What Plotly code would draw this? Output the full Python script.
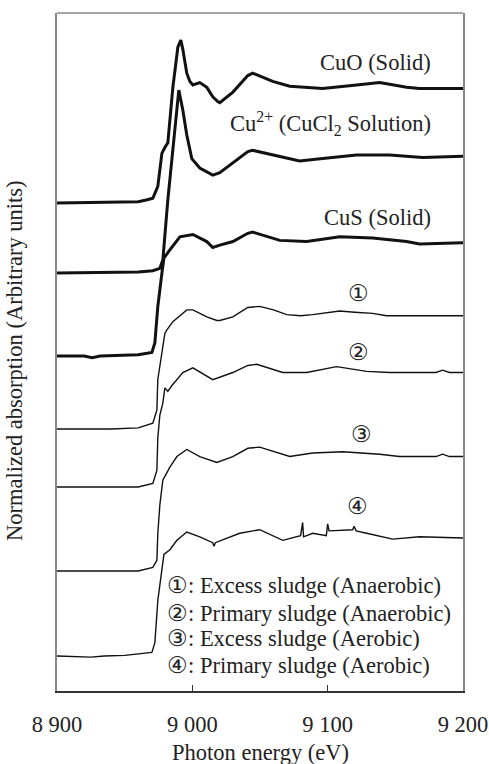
import plotly.graph_objects as go

# ---- data: photon energy (eV) and normalized absorption (edge jump ~ 1) ----
cuo_e = [8900, 8930, 8960, 8966, 8970.8, 8974.5, 8977.5, 8979.7, 8981.9, 8985.6, 8989.3,
         8991.5, 8993.0, 8995.9, 8998.2, 9000.4, 9005.5, 9010.7, 9015.1, 9018.8, 9020.3,
         9030, 9041, 9044.6, 9059.4, 9072, 9096.3, 9121.4, 9138.4, 9158.3, 9167.9, 9200]
cuo_mu = [0, 0.005, 0.01, 0.025, 0.04, 0.14, 0.42, 0.47, 0.51, 0.98, 1.32,
          1.38, 1.30, 1.10, 1.03, 1.00, 1.02, 0.98, 0.90, 0.86, 0.85,
          0.94, 1.08, 1.10, 1.03, 0.99, 0.97, 1.00, 1.02, 0.98, 0.97, 0.97]

cucl2_e = [8900, 8960, 8970.8, 8976, 8978.2, 8979.7, 8981.9, 8990.0, 8993.0, 8995.9,
           8999.6, 9005.5, 9012.9, 9015.1, 9020.3, 9029.9, 9041, 9044.6, 9059.4, 9079.3,
           9096.3, 9121.4, 9145.8, 9170.1, 9200]
cucl2_mu = [0, 0.01, 0.02, 0.04, 0.11, 0.34, 0.62, 1.55, 1.38, 1.17,
            0.97, 0.89, 0.84, 0.83, 0.85, 0.93, 1.03, 1.04, 1.00, 0.95,
            0.97, 1.00, 1.00, 0.98, 0.99]

cus_e = [8900, 8920, 8926, 8932, 8960, 8970.1, 8972.3, 8974.5, 8977.5, 8979.0, 8983.4, 8990.8,
         9000.4, 9010.7, 9015.1, 9020.3, 9030, 9041, 9044.6, 9064.6, 9084.5, 9108.9,
         9133.2, 9158.3, 9167.9, 9200]
cus_mu = [0, 0, -0.015, 0, 0.01, 0.03, 0.11, 0.42, 0.70, 0.83, 0.90, 1.01,
          1.03, 0.97, 0.92, 0.94, 0.97, 1.04, 1.05, 0.98, 0.97, 1.01,
          1.00, 0.97, 0.95, 0.96]

s1_e = [8900, 8940, 8960, 8970.8, 8973.8, 8974.5, 8979.7, 8981.2, 8985.6, 8995.9,
        9000.4, 9010.7, 9018.1, 9020.3, 9029.9, 9041, 9049.8, 9060, 9069.7, 9080,
        9088.9, 9100, 9108.9, 9120, 9133.2, 9143.5, 9170, 9200]
s1_mu = [0, 0, 0.01, 0.05, 0.16, 0.42, 0.81, 0.84, 0.91, 1.01,
         1.01, 0.95, 0.92, 0.92, 0.95, 1.03, 1.04, 1.01, 0.97, 0.96,
         0.97, 0.99, 1.00, 0.99, 0.98, 0.96, 0.96, 0.96]

s2_e = [8900, 8960, 8970.8, 8973.8, 8974.5, 8976, 8978.2, 8979.7, 8981.9, 8984.9,
        8993, 9000.4, 9015.1, 9029.9, 9041, 9047.6, 9066.8, 9084.5, 9106.6, 9128.8,
        9145.8, 9180, 9185, 9190, 9200]
s2_mu = [0, 0, 0.03, 0.14, 0.42, 0.61, 0.71, 0.84, 0.81, 0.86,
         0.97, 1.01, 0.91, 0.97, 1.03, 1.04, 0.97, 0.97, 1.02, 0.98,
         0.97, 0.97, 0.99, 0.97, 0.97]

s3_e = [8900, 8960, 8970.8, 8973.8, 8974.5, 8976, 8978.2, 8983.4, 8988.6, 8995.9,
        9005.5, 9018.1, 9029.9, 9041, 9049.8, 9072, 9088.9, 9111.1, 9138.4, 9153.1,
        9180, 9185, 9190, 9200]
s3_mu = [0, 0, 0.03, 0.09, 0.32, 0.56, 0.77, 0.88, 0.97, 1.03,
         0.97, 0.92, 0.97, 1.04, 1.05, 0.97, 1.00, 1.01, 0.99, 0.97,
         0.97, 0.99, 0.97, 0.97]

s4_e = [8900, 8925, 8935, 8950, 8970.1, 8972.3, 8974.5, 8977.5, 8979.0, 8983.4, 8988.6,
        8995.9, 9005.5, 9015.1, 9016, 9017, 9035, 9049.8, 9066.8, 9080, 9081.5,
        9082.2, 9088.9, 9099, 9100, 9101, 9118.5, 9119.5, 9121, 9128.8, 9148,
        9167.9, 9200]
s4_mu = [0, -0.01, 0, 0.005, 0.03, 0.11, 0.47, 0.75, 0.86, 0.90, 0.98,
         1.05, 1.01, 0.96, 0.93, 0.96, 1.04, 1.07, 0.98, 1.02, 1.13,
         1.01, 1.04, 1.02, 1.12, 1.06, 1.07, 1.10, 1.06, 1.04, 0.99,
         1.01, 1.00]

offsets = [4.136, 3.542, 2.839, 2.220, 1.729, 1.017, 0.297]
series_e = [cuo_e, cucl2_e, cus_e, s1_e, s2_e, s3_e, s4_e]
series_mu = [cuo_mu, cucl2_mu, cus_mu, s1_mu, s2_mu, s3_mu, s4_mu]
series_names = ["CuO (Solid)", "Cu<sup>2+</sup> (CuCl<sub>2</sub> Solution)", "CuS (Solid)",
                "①", "②", "③", "④"]
line_widths = [3, 3, 3, 1.4, 1.4, 1.4, 1.4]

x_ticks = [8900, 9000, 9100, 9200]
x_tick_labels = ["8 900", "9 000", "9 100", "9 200"]

legend_lines = ["①: Excess sludge (Anaerobic)",
                "②: Primary sludge (Anaerobic)",
                "③: Excess sludge (Aerobic)",
                "④: Primary sludge (Aerobic)"]

FONT = "Times New Roman"
FS = 22.5

fig = go.Figure()
for e, mu, off, name, w in zip(series_e, series_mu, offsets, series_names, line_widths):
    fig.add_trace(go.Scatter(x=e, y=[m + off for m in mu], mode="lines", name=name,
                             line=dict(color="#111111", width=w), showlegend=False))

label_pos = [(9177.5, 5.33, "right"), (9177.5, 4.81, "right"), (9177.5, 4.01, "right"),
             (9122.9, 3.37, "center"), (9122.9, 2.87, "center"), (9125, 2.17, "center"),
             (9122, 1.56, "center")]
for (lx, ly, anc), name in zip(label_pos, series_names):
    fig.add_annotation(x=lx, y=ly, xref="x", yref="y", text=name, showarrow=False,
                       xanchor=anc, yanchor="middle", font=dict(family=FONT, size=FS, color="#222"))

leg_y = [0.898, 0.661, 0.449, 0.220]
for t, ly in zip(legend_lines, leg_y):
    fig.add_annotation(x=8979.7, y=ly, xref="x", yref="y", text=t, showarrow=False,
                       xanchor="left", yanchor="middle", font=dict(family=FONT, size=FS, color="#222"))

fig.add_annotation(x=0.5, y=-0.091, xref="paper", yref="paper", text="Photon energy (eV)",
                   showarrow=False, xanchor="center", yanchor="middle",
                   font=dict(family=FONT, size=FS, color="#222"))
fig.add_annotation(x=-0.103, y=0.487, xref="paper", yref="paper",
                   text="Normalized absorption (Arbitrary units)", textangle=-90,
                   showarrow=False, xanchor="center", yanchor="middle",
                   font=dict(family=FONT, size=FS, color="#222"))

fig.add_shape(type="line", xref="paper", yref="paper", x0=0, x1=1, y0=1, y1=1,
              line=dict(color="#888888", width=1.5))

fig.update_xaxes(range=[8900, 9200], tickvals=x_ticks, ticktext=x_tick_labels,
                 ticks="inside", ticklen=6, tickcolor="#333", tickwidth=1,
                 showline=True, linecolor="#333", linewidth=1.5, mirror=False,
                 showgrid=False, zeroline=False, ticklabelstandoff=12, automargin=False,
                 ticklabeloverflow="allow",
                 tickfont=dict(family=FONT, size=FS, color="#222"))
fig.update_yaxes(range=[0, 5.746], showticklabels=False, ticks="", automargin=False,
                 showline=True, linecolor="#888888", linewidth=1.5, mirror=True,
                 showgrid=False, zeroline=False)

fig.update_layout(width=489, height=764, margin=dict(l=57, r=26, t=13, b=73),
                  plot_bgcolor="white", paper_bgcolor="white", showlegend=False,
                  font=dict(family=FONT, size=FS, color="#222"))

fig.write_html("out.html", config={"displayModeBar": False},
               post_script="document.body.style.margin='0';")
